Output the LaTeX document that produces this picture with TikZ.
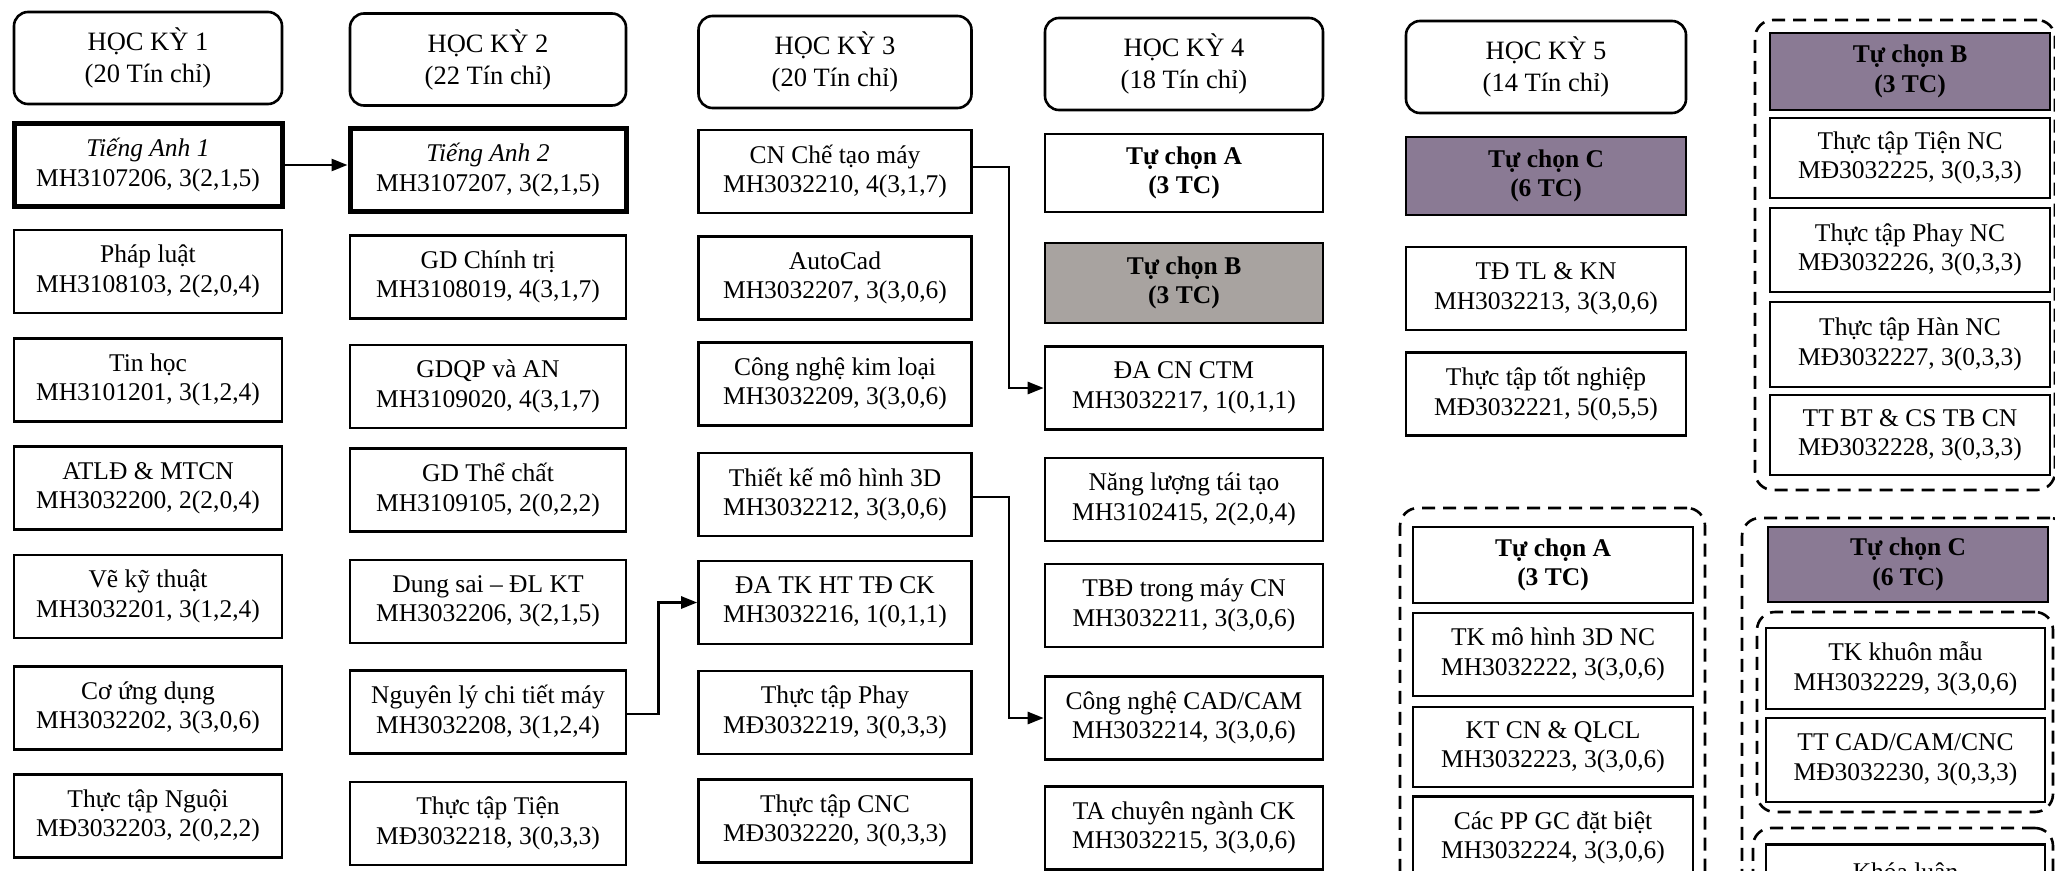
\documentclass[tikz,border=0pt]{standalone}
\usepackage{fontspec}
\setmainfont{Liberation Serif}
\usetikzlibrary{arrows.meta}
\definecolor{noiseA}{RGB}{138,122,148}
\definecolor{noiseB}{RGB}{168,163,160}
\tikzset{
  course/.style={draw, line width=2.6pt, align=center, inner sep=0pt,
    minimum height=83pt, font=\fontsize{25.5}{29.5}\selectfont},
  hdr/.style={draw, line width=2.6pt, rounded corners=14pt, align=center,
    inner sep=0pt, minimum height=92pt, font=\fontsize{26.5}{32}\selectfont},
  heavy/.style={line width=5pt},
  grp/.style={draw, line width=2.6pt, dash pattern=on 13pt off 8pt,
    rounded corners=18pt, inner sep=0pt},
  link/.style={line width=2.6pt, -{Triangle[length=16pt,width=12pt]}},
  elect/.style={font=\fontsize{25.5}{29.5}\selectfont\bfseries},
  wA/.style={minimum width=268pt}, wB/.style={minimum width=276pt},
  wC/.style={minimum width=273pt}, wD/.style={minimum width=278pt},
  wE/.style={minimum width=280pt},
}
\begin{document}
\begin{tikzpicture}[x=1pt,y=-1pt]
\useasboundingbox (0,0) rectangle (2055,870);
\clip (0,0) rectangle (2055,870);
\fill[white] (0,0) rectangle (2055,870);
% column 1
\node (h1) [hdr,wA] at (148,58) {HỌC KỲ 1\\(20 Tín chỉ)};
\node (a1) [course,wA,heavy] at (148,165) {\textit{Tiếng Anh 1}\\MH3107206, 3(2,1,5)};
\node (a2) [course,wA] at (148,271.5) {Pháp luật\\MH3108103, 2(2,0,4)};
\node (a3) [course,wA] at (148,380) {Tin học\\MH3101201, 3(1,2,4)};
\node (a4) [course,wA] at (148,488) {ATLĐ \& MTCN\\MH3032200, 2(2,0,4)};
\node (a5) [course,wA] at (148,596.5) {Vẽ kỹ thuật\\MH3032201, 3(1,2,4)};
\node (a6) [course,wA] at (148,708) {Cơ ứng dụng\\MH3032202, 3(3,0,6)};
\node (a7) [course,wA] at (148,816) {Thực tập Nguội\\MĐ3032203, 2(0,2,2)};
% column 2
\node (h2) [hdr,wB] at (488,59.5) {HỌC KỲ 2\\(22 Tín chỉ)};
\node (b1) [course,wB,heavy] at (488,170) {\textit{Tiếng Anh 2}\\MH3107207, 3(2,1,5)};
\node (b2) [course,wB] at (488,277) {GD Chính trị\\MH3108019, 4(3,1,7)};
\node (b3) [course,wB] at (488,386.5) {GDQP và AN\\MH3109020, 4(3,1,7)};
\node (b4) [course,wB] at (488,490) {GD Thể chất\\MH3109105, 2(0,2,2)};
\node (b5) [course,wB] at (488,601.5) {Dung sai – ĐL KT\\MH3032206, 3(2,1,5)};
\node (b6) [course,wB] at (488,712) {Nguyên lý chi tiết máy\\MH3032208, 3(1,2,4)};
\node (b7) [course,wB] at (488,823.5) {Thực tập Tiện\\MĐ3032218, 3(0,3,3)};
% column 3
\node (h3) [hdr,wC] at (835,62) {HỌC KỲ 3\\(20 Tín chỉ)};
\node (c1) [course,wC] at (835,171.5) {CN Chế tạo máy\\MH3032210, 4(3,1,7)};
\node (c2) [course,wC] at (835,278) {AutoCad\\MH3032207, 3(3,0,6)};
\node (c3) [course,wC] at (835,384) {Công nghệ kim loại\\MH3032209, 3(3,0,6)};
\node (c4) [course,wC] at (835,494.5) {Thiết kế mô hình 3D\\MH3032212, 3(3,0,6)};
\node (c5) [course,wC] at (835,602.5) {ĐA TK HT TĐ CK\\MH3032216, 1(0,1,1)};
\node (c6) [course,wC] at (835,712.5) {Thực tập Phay\\MĐ3032219, 3(0,3,3)};
\node (c7) [course,wC] at (835,821) {Thực tập CNC\\MĐ3032220, 3(0,3,3)};
% column 4
\node (h4) [hdr,wD] at (1184,64) {HỌC KỲ 4\\(18 Tín chỉ)};
\node (d1) [course,wD,elect,minimum height=78pt] at (1184,173) {Tự chọn A\\(3 TC)};
\node (d2) [course,wD,elect,fill=noiseB,minimum height=80pt] at (1184,283) {Tự chọn B\\(3 TC)};
\node (d3) [course,wD] at (1184,388) {ĐA CN CTM\\MH3032217, 1(0,1,1)};
\node (d4) [course,wD] at (1184,499.5) {Năng lượng tái tạo\\MH3102415, 2(2,0,4)};
\node (d5) [course,wD] at (1184,605.5) {TBĐ trong máy CN\\MH3032211, 3(3,0,6)};
\node (d6) [course,wD] at (1184,718) {Công nghệ CAD/CAM\\MH3032214, 3(3,0,6)};
\node (d7) [course,wD] at (1184,828) {TA chuyên ngành CK\\MH3032215, 3(3,0,6)};
% column 5
\node (h5) [hdr,wE] at (1546,67) {HỌC KỲ 5\\(14 Tín chỉ)};
\node (e1) [course,wE,elect,fill=noiseA,minimum height=78pt] at (1546,176) {Tự chọn C\\(6 TC)};
\node (e2) [course,wE] at (1546,288.5) {TĐ TL \& KN\\MH3032213, 3(3,0,6)};
\node (e3) [course,wE] at (1546,394) {Thực tập tốt nghiệp\\MĐ3032221, 5(0,5,5)};
% group A
\node (gA) [grp,minimum width=305pt,minimum height=412pt] at (1552.5,714) {};
\node (f1) [course,wE,elect,minimum height=76pt] at (1553,565) {Tự chọn A\\(3 TC)};
\node (f2) [course,wE] at (1553,654.5) {TK mô hình 3D NC\\MH3032222, 3(3,0,6)};
\node (f3) [course,wE,minimum height=80pt] at (1553,747) {KT CN \& QLCL\\MH3032223, 3(3,0,6)};
\node (f4) [course,wE] at (1553,838) {Các PP GC đặt biệt\\MH3032224, 3(3,0,6)};
% group B
\node (gB) [grp,minimum width=300pt,minimum height=470pt] at (1905,255) {};
\node (k1) [course,wE,elect,fill=noiseA,minimum height=77pt] at (1910,71.5) {Tự chọn B\\(3 TC)};
\node (k2) [course,wE,minimum height=80pt] at (1910,158) {Thực tập Tiện NC\\MĐ3032225, 3(0,3,3)};
\node (k3) [course,wE,minimum height=84pt] at (1910,250) {Thực tập Phay NC\\MĐ3032226, 3(0,3,3)};
\node (k4) [course,wE,minimum height=85pt] at (1910,344.5) {Thực tập Hàn NC\\MĐ3032227, 3(0,3,3)};
\node (k5) [course,wE,minimum height=80pt] at (1910,435) {TT BT \& CS TB CN\\MĐ3032228, 3(0,3,3)};
% group C
\node (gC) [grp,minimum width=326pt,minimum height=422pt] at (1905,729) {};
\node (m1) [course,wE,elect,fill=noiseA,minimum height=75pt] at (1908,564.5) {Tự chọn C\\(6 TC)};
\node (gC1) [grp,minimum width=296pt,minimum height=200pt] at (1905,712) {};
\node (m2) [course,minimum width=279pt,minimum height=81pt] at (1905.5,668.5) {TK khuôn mẫu\\MH3032229, 3(3,0,6)};
\node (m3) [course,minimum width=279pt,minimum height=84pt] at (1905.5,760) {TT CAD/CAM/CNC\\MĐ3032230, 3(0,3,3)};
\node (gC2) [grp,minimum width=300pt,minimum height=152pt] at (1903,904) {};
\node (m4) [course,minimum width=279pt] at (1905.5,886) {Khóa luận\\\phantom{M}};
% connectors
\draw[link] (a1.east) -- (a1.east -| b1.west);
\draw[link] ([yshift=4.5pt]c1.east) -- ++(36,0) |- (d3.west);
\draw[link] ([yshift=-2.5pt]c4.east) -- ++(36,0) |- (d6.west);
\draw[link] ([yshift=-2pt]b6.east) -- ++(31,0) |- (c5.west);
\end{tikzpicture}
\end{document}
